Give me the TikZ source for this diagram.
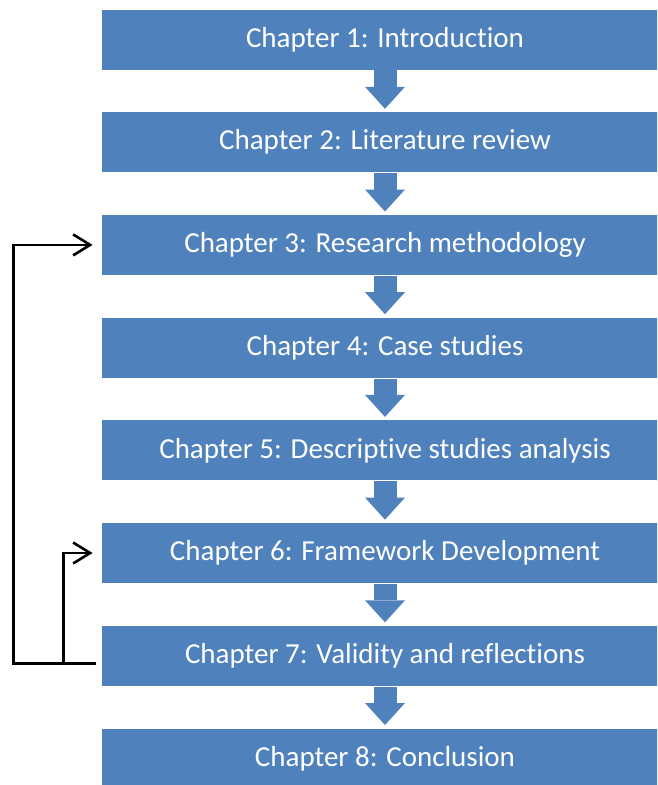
\documentclass[tikz,border=0pt]{standalone}
\usepackage{fontspec}
\setmainfont{Carlito}[Ligatures={NoCommon}]
\usetikzlibrary{arrows.meta,positioning}
\definecolor{chapBlue}{RGB}{79,129,189}

\begin{document}
\begin{tikzpicture}[x=1pt, y=-1pt,
    chapbox/.style={rectangle, draw=white, fill=chapBlue, line width=0.8pt,
                    minimum width=568pt, minimum height=61pt, inner sep=0pt,
                    text=white, font=\fontsize{29}{34}\selectfont},
    flowarrow/.style={draw=chapBlue, line width=23pt, shorten >=2.5pt,
                      -{Triangle[width=40pt, length=22pt, line width=0pt]}},
    backloop/.style={draw=black, line width=2.6pt, line join=miter,
                     -{Straight Barb[length=17pt, width=21pt, line width=2.6pt]}}
  ]
  \useasboundingbox (0,0) rectangle (657,785);
  \clip (0,0) rectangle (657,785);

  \node[chapbox] (ch1) at (385, 39.5) {Chapter 1: Introduction};
  \node[chapbox, below=40.9pt of ch1] (ch2) {Chapter 2: Literature review};
  \node[chapbox, below=40.9pt of ch2] (ch3) {Chapter 3: Research methodology};
  \node[chapbox, below=40.9pt of ch3] (ch4) {Chapter 4: Case studies};
  \node[chapbox, below=40.9pt of ch4] (ch5) {Chapter 5: Descriptive studies analysis};
  \node[chapbox, below=40.9pt of ch5] (ch6) {Chapter 6: Framework Development};
  \node[chapbox, below=40.9pt of ch6] (ch7) {Chapter 7: Validity and reflections};
  \node[chapbox, below=40.9pt of ch7] (ch8) {Chapter 8: Conclusion};

  % downward block arrows
  \foreach \a/\b in {ch1/ch2, ch2/ch3, ch3/ch4, ch4/ch5, ch5/ch6, ch6/ch7, ch7/ch8}
    \draw[flowarrow] (\a.south) -- (\b.north);

  % feedback loops from chapter 7
  \coordinate (loopstart) at ([shift={(-5,8)}]ch7.west);
  \coordinate (loopsplit) at ([shift={(-37,8)}]ch7.west);
  \draw[backloop] (loopstart) -- ++(-82,0) |- ([xshift=-8pt]ch3.west);
  \draw[backloop] (loopsplit) |- ([xshift=-8pt]ch6.west);
\end{tikzpicture}
\end{document}
